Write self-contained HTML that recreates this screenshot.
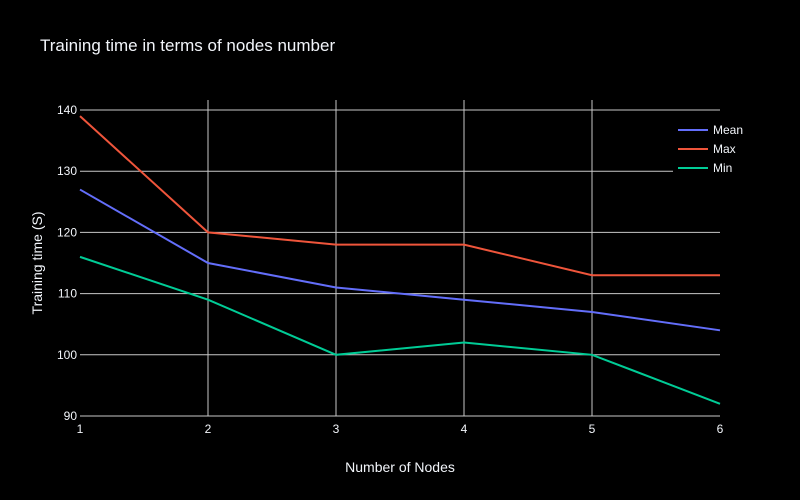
<!DOCTYPE html>
<html><head><meta charset="utf-8"><style>
html,body{margin:0;padding:0;background:#000;}
svg{display:block;font-family:"Liberation Sans",sans-serif;}
</style></head><body>
<svg id="chart" width="800" height="500">
<rect width="800" height="500" fill="#000"/>
<text x="40" y="51" fill="#f2f5fa" font-size="17">Training time in terms of nodes number</text>
<g id="grid"></g><g id="lines"></g><g id="ticks"></g>
<text x="400" y="472" fill="#f2f5fa" font-size="14" text-anchor="middle">Number of Nodes</text>
<text transform="translate(42,263) rotate(-90)" fill="#f2f5fa" font-size="14" text-anchor="middle">Training time (S)</text>
<g id="legend"></g>
</svg>
<script>
const nodes=[1,2,3,4,5,6];
const meanVals=[127,115,111,109,107,104];
const maxVals=[139,120,118,118,113,113];
const minVals=[116,109,100,102,100,92];
const yTicks=[90,100,110,120,130,140];
const seriesNames=["Mean","Max","Min"];
const colors=["#636efa","#EF553B","#00cc96"];
const ns="http://www.w3.org/2000/svg";
const X=v=>80+(v-1)*128;
const Y=v=>416-(v-90)*6.12;
function mk(t,a,p){const e=document.createElementNS(ns,t);for(const k in a)e.setAttribute(k,a[k]);p.appendChild(e);return e;}
const grid=document.getElementById('grid'),ticks=document.getElementById('ticks'),lines=document.getElementById('lines'),leg=document.getElementById('legend');
yTicks.forEach(v=>{
 const l=mk('line',{x1:80,x2:(v===130?673:720),y1:Y(v),y2:Y(v),stroke:'#c8c8c8','stroke-width':1},grid);
 
 
 const t=mk('text',{x:77,y:Y(v)+4,fill:'#f2f5fa','font-size':12,'text-anchor':'end'},ticks);t.textContent=v;
 
 
});
nodes.forEach((v,i)=>{
 if(i>0&&i<nodes.length-1){
  const l=mk('line',{x1:X(v),x2:X(v),y1:100,y2:416,stroke:'#c8c8c8','stroke-width':1},grid);
  
  
 }
 const t=mk('text',{x:X(v),y:433,fill:'#f2f5fa','font-size':12,'text-anchor':'middle'},ticks);t.textContent=v;
 
 
});
[meanVals,maxVals,minVals].forEach((arr,i)=>{
 const p=mk('polyline',{points:arr.map((v,j)=>X(nodes[j])+','+Y(v)).join(' '),fill:'none',stroke:colors[i],'stroke-width':2},lines);
 
 
 const ly=130+i*19;
 const ll=mk('line',{x1:678,x2:708,y1:ly,y2:ly,stroke:colors[i],'stroke-width':2},leg);
 
 
 const lt=mk('text',{x:713,y:ly+4,fill:'#f2f5fa','font-size':12},leg);lt.textContent=seriesNames[i];
 
 
});
</script>
</body></html>
